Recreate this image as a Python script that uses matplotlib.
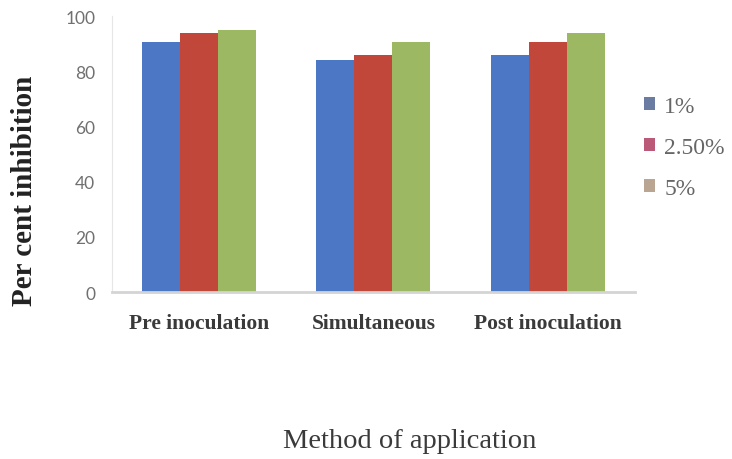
import matplotlib
matplotlib.use("Agg")
import matplotlib.pyplot as plt
import numpy as np

categories = ["Pre inoculation", "Simultaneous", "Post inoculation"]
series_names = ["1%", "2.50%", "5%"]
values_1 = [90.5, 84.0, 86.0]
values_2_5 = [94.0, 86.0, 90.5]
values_5 = [95.0, 90.5, 94.0]
colors = ["#4C77C4", "#C0473A", "#9DB862"]
legend_colors = ["#6A7CA2", "#BA5A78", "#B9A592"]
yticks = [0, 20, 40, 60, 80, 100]

fig = plt.figure(figsize=(7.32, 4.60), dpi=100)
ax = fig.add_axes([0.153, 0.363, 0.714, 0.600])

x = np.arange(len(categories))
width = 0.218
for i, (vals, name, col) in enumerate(zip([values_1, values_2_5, values_5], series_names, colors)):
    ax.bar(x + (i - 1) * width, vals, width, color=col, label=name, zorder=2)

ax.set_xlim(-0.5, 2.5)
ax.set_ylim(0, 100)
ax.set_yticks(yticks)
ax.set_yticklabels([str(t) for t in yticks], fontfamily="Lato", fontsize=12.5, color="#707070")
ax.set_xticks(x)
ax.set_xticklabels(categories, fontfamily="Liberation Serif", fontweight="bold",
                   fontsize=15.5, color="#3a3a3a")
ax.tick_params(axis="both", length=0)
ax.tick_params(axis="y", pad=12)
ax.tick_params(axis="x", pad=15)

for side in ["top", "right"]:
    ax.spines[side].set_visible(False)
ax.spines["left"].set_color("#e6e6e6")
ax.spines["bottom"].set_color("#d4d4d4")
ax.spines["bottom"].set_linewidth(2)

ax.set_ylabel("Per cent inhibition", fontfamily="Liberation Serif", fontweight="bold",
              fontsize=21, color="#222222")
ax.yaxis.set_label_coords(-0.142, 0.37)
fig.text(0.559, 0.041, "Method of application", ha="center", va="center",
         fontfamily="Liberation Serif", fontsize=20.5, color="#3a3a3a")

leg = ax.legend(loc="upper left", bbox_to_anchor=(1.0, 0.745), frameon=False,
                prop={"family": "Liberation Serif", "size": 17},
                handlelength=0.45, handleheight=0.45, handletextpad=0.4,
                labelspacing=0.85, borderaxespad=0.0)
for t in leg.get_texts():
    t.set_color("#666666")
for h, c in zip(leg.legend_handles, legend_colors):
    h.set_facecolor(c)

fig.savefig("out.png", dpi=100)
